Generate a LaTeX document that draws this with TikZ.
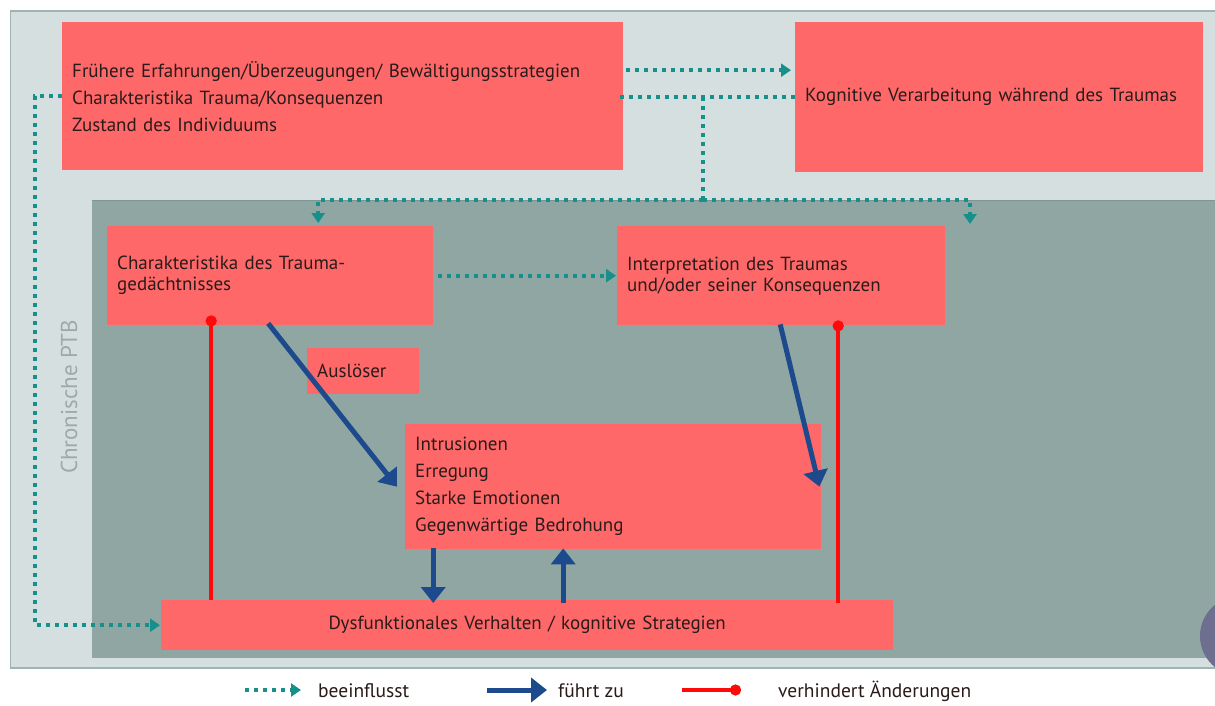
\documentclass[tikz,border=0pt]{standalone}
\usepackage{fontspec}
\setmainfont{PT Sans}
\usetikzlibrary{arrows.meta,calc}
\definecolor{boxred}{HTML}{FF6868}
\definecolor{ink}{HTML}{2B1A1A}
\definecolor{paleback}{HTML}{D6DFDF}
\definecolor{paleedge}{HTML}{9FB3B0}
\definecolor{darkback}{HTML}{8FA6A3}
\definecolor{darkedge}{HTML}{7D9693}
\definecolor{tealdot}{HTML}{17908B}
\definecolor{leadblue}{HTML}{1C4A8C}
\definecolor{blockred}{HTML}{FF0A0A}
\definecolor{ptbgrey}{HTML}{9CAAAA}
\definecolor{discpurple}{HTML}{6E6E8E}
\begin{document}
\begin{tikzpicture}[x=1pt,y=-1pt,
  box/.style={fill=boxred, draw=none, inner xsep=10pt, inner ysep=0pt,
    align=left, text=ink, anchor=north west,
    font=\fontsize{19}{27}\selectfont},
  infl/.style={draw=tealdot, line width=4pt, dash pattern=on 4pt off 5pt},
  inflarrow/.style={infl, -{Triangle[length=10pt,width=13pt,fill=tealdot]}},
  lead/.style={draw=leadblue, line width=5pt,
    -{Triangle[length=16pt,width=24pt]}},
  block/.style={draw=blockred, line width=4pt,
    {Circle[length=11pt,width=11pt]}-},
  blockend/.style={draw=blockred, line width=4pt,
    -{Circle[length=11pt,width=11pt]}},
  legend/.style={anchor=west, text=ink, inner sep=0pt,
    font=\fontsize{19.5}{22}\selectfont}]

\useasboundingbox (0,0) rectangle (1215,706);
\fill[white] (0,0) rectangle (1215,706);

\begin{scope}
\clip (0,0) rectangle (1215,706);
% outer panel and the "Chronische PTB" region
\fill[paleback] (10,11) rectangle (1225,668);
\draw[paleedge, line width=2pt] (10,11) -- (1225,11);
\draw[paleedge, line width=2pt] (10,668) -- (1225,668);
\draw[paleedge, line width=1pt] (10,11) -- (10,668);
\fill[darkback] (92,200) rectangle (1225,658);
\draw[darkedge, line width=1pt] (92,200) -- (1225,200);
\fill[discpurple] (1240,636) circle (40);
\end{scope}

\node[rotate=90, text=ptbgrey, font=\fontsize{23}{26}\selectfont, inner sep=0pt]
  (ptb) at (69,397) {Chronische PTB};

% boxes
\node[box, text width=541pt, minimum height=148pt] (A) at (62,22)
  {Frühere Erfahrungen/Überzeugungen/ Bewältigungsstrategien\\
   Charakteristika Trauma/Konsequenzen\\
   Zustand des Individuums};
\node[box, text width=388pt, minimum height=150pt] (B) at (795,22)
  {Kognitive Verarbeitung während des Traumas};
\node[box, text width=306pt, minimum height=99pt,
  font=\fontsize{19}{21}\selectfont] (C) at (107,226)
  {Charakteristika des Trauma-\\gedächtnisses};
\node[box, text width=308pt, minimum height=99pt,
  font=\fontsize{19}{21}\selectfont] (D) at (617,226)
  {Interpretation des Traumas\\und/oder seiner Konsequenzen};
\node[box, text width=92pt, minimum height=46pt] (T) at (307,348)
  {Auslöser};
\node[box, text width=396pt, minimum height=125pt] (E) at (405,424)
  {Intrusionen\\Erregung\\Starke Emotionen\\Gegenwärtige Bedrohung};
\node[box, text width=712pt, minimum height=50pt, align=center] (F) at (161,600)
  {Dysfunktionales Verhalten / kognitive Strategien};

% influence connectors
\draw[inflarrow] ($(A.east)+(3,-26)$) -- ($(B.west)+(-4,-27)$);
\draw[infl] (B.west) -- ($(A.east)+(-8,1)$);
\coordinate (split) at (703,97);
\coordinate (rail) at (703,200);
\coordinate (openend) at (970,224);
\draw[infl] (split) -- (rail);
\draw[inflarrow] (rail) -| ($(C.north)+(48,-3)$);
\draw[inflarrow] (rail) -| (openend);
\draw[inflarrow] (A.west) -- ++(-27,0) |- ($(F.west)+(-1,0)$);
\draw[inflarrow] ($(C.east)+(5,0)$) -- ($(D.west)+(-1,0)$);

% leads-to connectors
\draw[lead] ($(C.south)+(-2,-2)$) -- ($(E.west)+(-8,0)$);
\draw[lead] ($(D.south)+(-1,-1)$) -- ($(E.east)+(-2,0)$);
\draw[lead] ($(E.south)+(-180,-1)$) -- ($(F.north)+(-94,3)$);
\draw[lead] ($(F.north)+(36,3)$) -- ($(E.south)+(-50,-1)$);

% blocking connectors
\draw[block] ($(C.south)+(-59,-10)$) -- ($(F.north)+(-316,0)$);
\draw[block] ($(D.south)+(57,-5)$) -- ($(F.north)+(311,3)$);

% legend
\coordinate (l1a) at (245,690); \coordinate (l1b) at (301,690);
\coordinate (l2a) at (487,690); \coordinate (l2b) at (547,690);
\coordinate (l3a) at (682,690); \coordinate (l3b) at (741,690);
\draw[inflarrow] (l1a) -- (l1b);
\draw[lead] (l2a) -- (l2b);
\draw[blockend] (l3a) -- (l3b);
\node[legend] (k1) at (318,691) {beeinflusst};
\node[legend] (k2) at (558,691) {führt zu};
\node[legend] (k3) at (778,691) {verhindert Änderungen};
\end{tikzpicture}
\end{document}
